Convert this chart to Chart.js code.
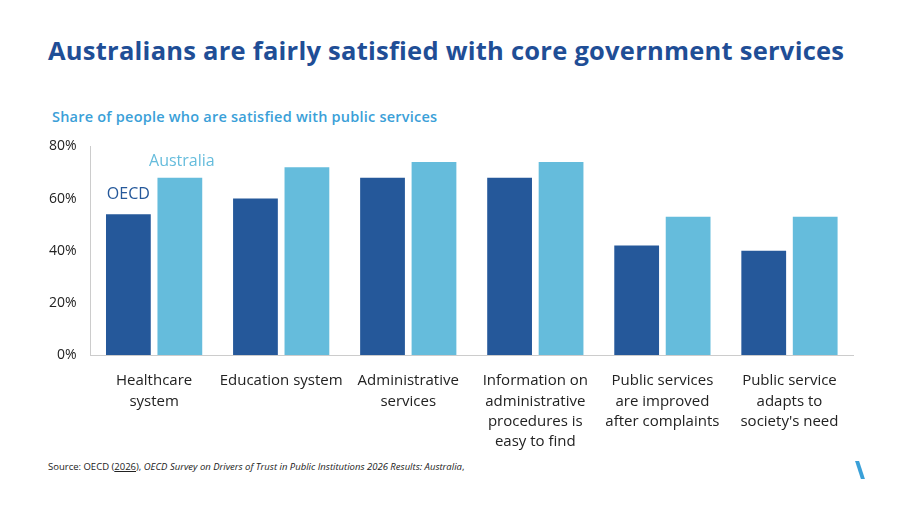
<!DOCTYPE html>
<html><head><meta charset="utf-8">
<script src="https://cdn.jsdelivr.net/npm/chart.js@4"></script>
<style>
body{margin:0;width:900px;height:506px;background:#fff;font-family:"Open Sans",sans-serif;position:relative;overflow:hidden}
#t{position:absolute;left:48px;top:33px;font-size:25.5px;font-weight:700;color:#1f4e96;letter-spacing:0.25px}
#s{position:absolute;left:52px;top:107px;font-size:14.5px;font-weight:600;color:#3aa0d8;letter-spacing:0.22px}
#c{position:absolute;left:40px;top:132px;width:830px;height:328px}
#src{position:absolute;left:48px;top:460px;font-size:9.5px;color:#222}
#mark{position:absolute;left:858px;top:461px;width:4px;height:18px;background:#3aa0d8;transform:skewX(18deg)}
</style></head><body>
<div id="t">Australians are fairly satisfied with core government services</div>
<div id="s">Share of people who are satisfied with public services</div>
<div id="c"><canvas id="cv"></canvas></div>
<div id="src">Source: OECD (<u>2026</u>), <i>OECD Survey on Drivers of Trust in Public Institutions 2026 Results: Australia</i>,</div>
<div id="mark"></div>
<script>
const categories=[["Healthcare","system"],["Education system"],["Administrative","services"],["Information on","administrative","procedures is","easy to find"],["Public services","are improved","after complaints"],["Public service","adapts to","society's need"]];
const oecd=[54,60,68,68,42,40];
const australia=[68,72,74,74,53,53];
const labelsPlugin={id:'lbl',afterDatasetsDraw(ch){const c=ch.ctx;c.save();c.font='16px "Open Sans"';c.textAlign='center';c.textBaseline='bottom';
const b0=ch.getDatasetMeta(0).data[0],b1=ch.getDatasetMeta(1).data[0];
c.fillStyle='#25589a';c.fillText('OECD',b0.x,b0.y-12);c.fillStyle='#65bcdc';c.fillText('Australia',b1.x+2,b1.y-8);c.restore();}};
new Chart(document.getElementById('cv'),{type:'bar',data:{labels:categories,datasets:[
{label:'OECD',data:oecd,backgroundColor:'#25589a',categoryPercentage:0.81,barPercentage:0.87},
{label:'Australia',data:australia,backgroundColor:'#65bcdc',categoryPercentage:0.81,barPercentage:0.87}]},
options:{responsive:true,maintainAspectRatio:false,animation:false,layout:{padding:{top:5,right:17,left:3}},
plugins:{legend:{display:false},tooltip:{enabled:false}},
scales:{y:{min:0,max:80,ticks:{stepSize:20,callback:v=>v+'%',color:'#222',font:{size:14,family:'"Open Sans"'},padding:6},grid:{display:false},border:{display:true,color:'#ccc'}},
x:{ticks:{color:'#222',font:{size:15,family:'"Open Sans"',lineHeight:1.35},maxRotation:0,autoSkip:false,padding:8},grid:{display:false},border:{color:'#ccc'}}}}
,plugins:[labelsPlugin]});
</script></body></html>
